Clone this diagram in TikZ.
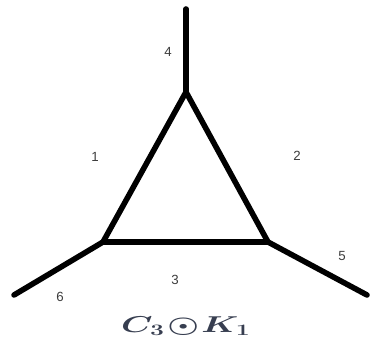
\documentclass[tikz,border=0pt]{standalone}
\usepackage{fontspec}
\setsansfont{Liberation Sans}
\usepackage{amsmath}
\usepackage{tikz}
\usetikzlibrary{positioning}
\definecolor{inkgray}{RGB}{60, 60, 60}
\definecolor{capblue}{RGB}{55, 62, 80}

\begin{document}
\begin{tikzpicture}[x=0.02646cm, y=-0.02646cm,
  edge/.style={line width=4.2pt, line cap=round, line join=round},
  lbl/.style={font=\sffamily, text=inkgray}]
  \useasboundingbox (0,0) rectangle (371,348);
  % cycle vertices and pendant ends
  \coordinate (va) at (186,92);
  \coordinate (vb) at (103,242);
  \coordinate (vc) at (268,242);
  \coordinate (pa) at (186,9);
  \coordinate (pb) at (14,295);
  \coordinate (pc) at (367,295);
  \draw[edge] (va) -- (vb) -- (vc) -- cycle;
  \draw[edge] (va) -- (pa);
  \draw[edge] (vb) -- (pb);
  \draw[edge] (vc) -- (pc);
  % edge labels
  \node[lbl] (l1) at (95,157) {1};
  \node[lbl] (l2) at (297,156) {2};
  \node[lbl] (l3) at (175,280) {3};
  \node[lbl] (l4) at (168,52) {4};
  \node[lbl] (l5) at (342,256) {5};
  \node[lbl] (l6) at (60,297) {6};
  \node[text=capblue, font=\fontsize{17}{19}\selectfont\boldmath, xscale=1.55] (cap) at (186,326) {$C_3\!\odot\! K_1$};
\end{tikzpicture}
\end{document}
